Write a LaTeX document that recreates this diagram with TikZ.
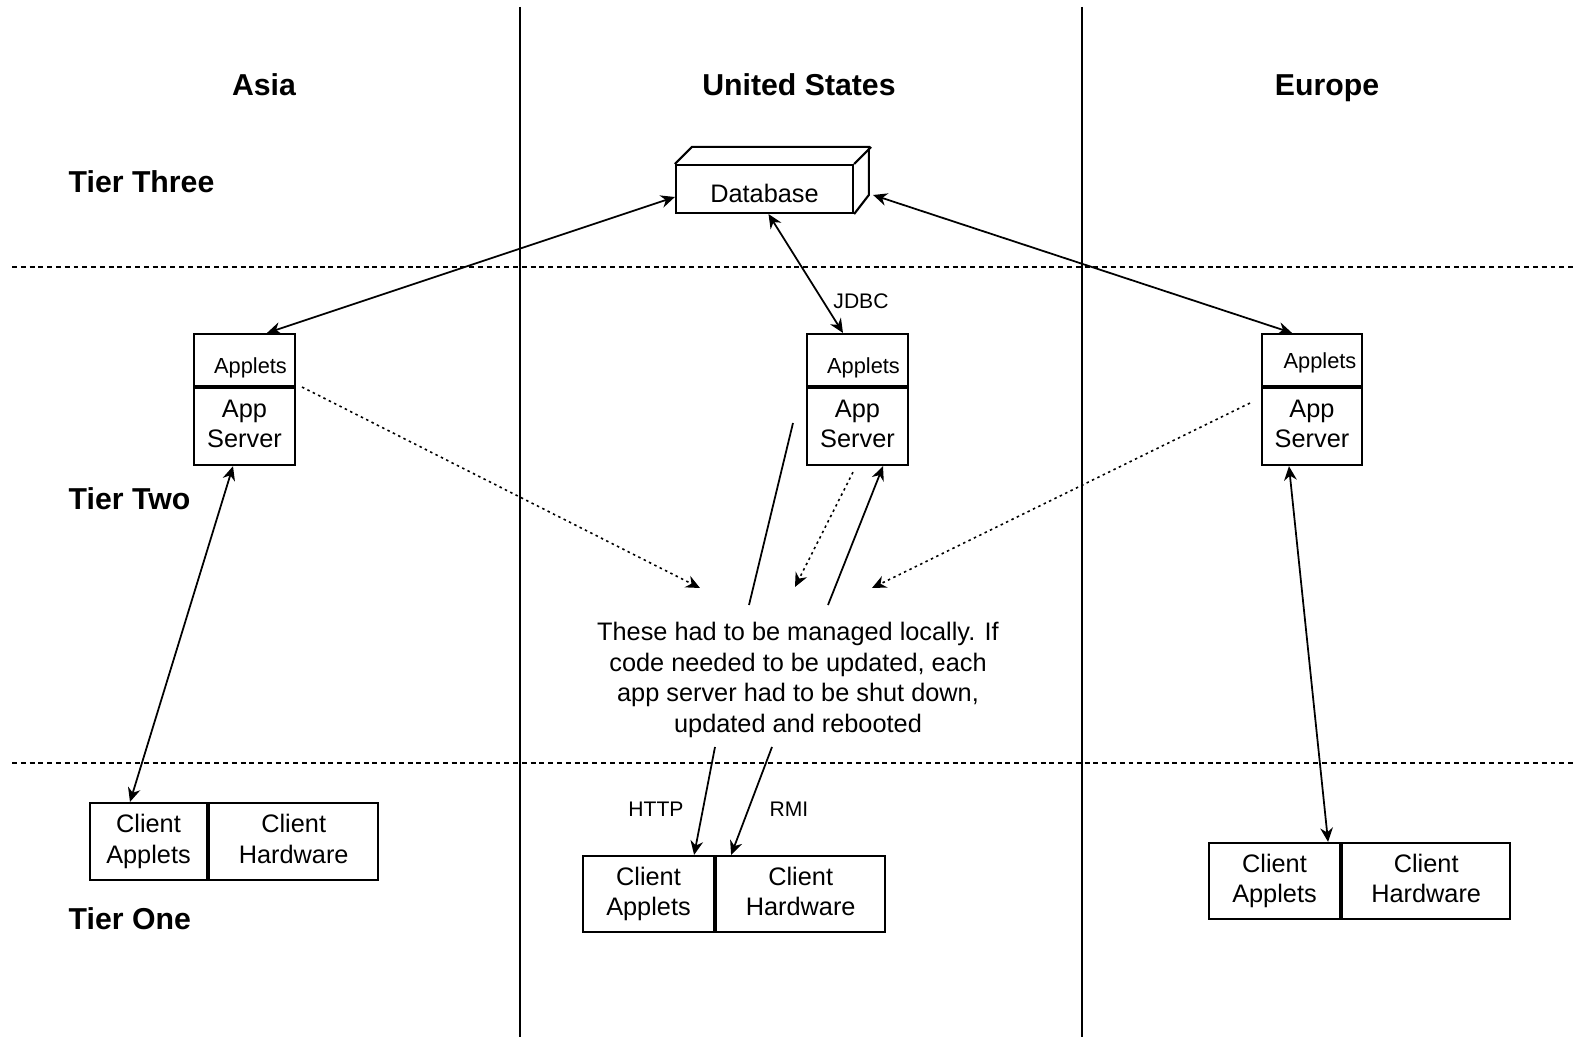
\documentclass[tikz,border=0pt]{standalone}
\usepackage{fontspec}
\setmainfont{Liberation Sans}
\usetikzlibrary{arrows.meta}

\tikzset{
  box/.style={draw, line width=0.6pt, inner sep=0pt, align=center, font=\fontsize{7.2}{8.7}\selectfont,
    execute at begin node=\rule{0pt}{9pt}, execute at end node=\rule[-1.6pt]{0pt}{1.6pt}},
  regionlbl/.style={font=\fontsize{8.6}{10}\selectfont\bfseries, anchor=base},
  tierlbl/.style={font=\fontsize{8.6}{10}\selectfont\bfseries, anchor=west, inner sep=0pt},
  smalltxt/.style={font=\fontsize{6}{7}\selectfont},
  onearrow/.style={line width=0.5pt, -{Stealth[length=4pt,width=3.6pt]}},
  twoarrow/.style={line width=0.5pt, {Stealth[length=4pt,width=3.6pt]}-{Stealth[length=4pt,width=3.6pt]}},
  dotarrow/.style={onearrow, line width=0.45pt, dash pattern=on 0.7pt off 1pt},
  zoneline/.style={line width=0.5pt},
  tierline/.style={line width=0.5pt, dash pattern=on 1.4pt off 1.1pt}
}

\begin{document}
\begin{tikzpicture}[x=0.01cm,y=-0.01cm]
    \useasboundingbox (0,0) rectangle (1575,1037);

    % regions and tiers
    \draw[zoneline] (520,7) -- (520,1037);
    \draw[zoneline] (1082,7) -- (1082,1037);
    \draw[tierline] (12,267) -- (1575,267);
    \draw[tierline] (12,763) -- (1575,763);

    \node[regionlbl] (asia) at (264,96) {Asia};
    \node[regionlbl] (usa) at (799,96) {United States};
    \node[regionlbl] (europe) at (1327,96) {Europe};

    \node[tierlbl] (tier3) at (68,182) {Tier Three};
    \node[tierlbl] (tier2) at (68,499) {Tier Two};
    \node[tierlbl] (tier1) at (68,919) {Tier One};

    % database
    \node[box, minimum width=1.77cm, minimum height=0.48cm] (db) at (764.5,189) {Database};
    \draw[line width=0.6pt] (db.north west) -- ++(17,-17) -- ++(177,0) -- ++(0,48) -- (db.south east);
    \draw[line width=0.6pt] (db.north east) -- ++(17,-17);

    % app servers
    \node[box, minimum width=1.01cm, minimum height=0.52cm, font=\fontsize{6.2}{7.5}\selectfont] (asiaapl) at (244.5,360) {\hspace{0.12cm}Applets};
    \node[box, minimum width=1.01cm, minimum height=0.77cm, anchor=north] (asiasrv) at (asiaapl.south) {App\\Server};

    \node[box, minimum width=1.01cm, minimum height=0.52cm, font=\fontsize{6.2}{7.5}\selectfont] (usapl) at (857.5,360) {\hspace{0.12cm}Applets};
    \node[box, minimum width=1.01cm, minimum height=0.77cm, anchor=north] (ussrv) at (usapl.south) {App\\Server};

    \node[box, minimum width=1.00cm, minimum height=0.52cm, font=\fontsize{6.2}{7.5}\selectfont] (euapl) at (1312,360) {\hspace{0.16cm}\raisebox{0.05cm}{Applets}};
    \node[box, minimum width=1.00cm, minimum height=0.77cm, anchor=north] (eusrv) at (euapl.south) {App\\Server};

    % clients
    \node[box, minimum width=1.17cm, minimum height=0.77cm] (asiacla) at (148.5,841.5) {Client\\Applets};
    \node[box, minimum width=1.69cm, minimum height=0.77cm, anchor=west] (asiaclh) at (asiacla.east) {Client\\Hardware};

    \node[box, minimum width=1.31cm, minimum height=0.76cm] (uscla) at (648.5,894) {Client\\Applets};
    \node[box, minimum width=1.69cm, minimum height=0.76cm, anchor=west] (usclh) at (uscla.east) {Client\\Hardware};

    \node[box, minimum width=1.31cm, minimum height=0.76cm] (eucla) at (1274.5,881) {Client\\Applets};
    \node[box, minimum width=1.68cm, minimum height=0.76cm, anchor=west] (euclh) at (eucla.east) {Client\\Hardware};

    % note
    \node[align=center, inner sep=0pt, font=\fontsize{7.2}{8.7}\selectfont] (note) at (798,680)
        {These had to be managed locally. If\\code needed to be updated, each\\app server had to be shut down,\\updated and rebooted};

    \coordinate (asiaend) at (700,588);
    \coordinate (euend) at (872,588);
    \coordinate (usend) at (795,587);
    \coordinate (rmitop) at (828,605);
    \coordinate (httptop) at (749,605);
    \coordinate (httpstart) at (793,423);
    \coordinate (httpbot) at (715,747);
    \coordinate (rmibot) at (772,747);

    % links
    \draw[twoarrow] ([yshift=-0.08cm]db.west) -- ([xshift=0.225cm]asiaapl.north);
    \draw[twoarrow] ([xshift=0.19cm,yshift=-0.06cm]db.east) -- ([xshift=-0.2cm]euapl.north);
    \draw[twoarrow] ([xshift=0.04cm]db.south) -- ([xshift=-0.145cm]usapl.north);
    \node[smalltxt] (jdbc) at (861,301) {JDBC};

    \draw[twoarrow] ([xshift=-0.115cm]asiasrv.south) -- ([xshift=-0.185cm]asiacla.north);
    \draw[twoarrow] ([xshift=-0.23cm]eusrv.south) -- ([xshift=-0.13cm]eucla.north east);

    \draw[dotarrow] ([xshift=0.06cm]asiaapl.south east) -- (asiaend);
    \draw[dotarrow] ([xshift=-0.11cm,yshift=-0.16cm]euapl.south west) -- (euend);
    \draw[dotarrow] ([xshift=-0.045cm,yshift=-0.06cm]ussrv.south) -- (usend);
    \draw[onearrow] (rmitop) -- ([xshift=0.255cm]ussrv.south);
    \draw[line width=0.5pt] (httptop) -- (httpstart);

    \draw[onearrow] (httpbot) -- ([xshift=-0.21cm]uscla.north east);
    \draw[onearrow] (rmibot) -- ([xshift=0.16cm]usclh.north west);
    \node[smalltxt] (http) at (656,809) {HTTP};
    \node[smalltxt] (rmi) at (789,809) {RMI};
\end{tikzpicture}
\end{document}
